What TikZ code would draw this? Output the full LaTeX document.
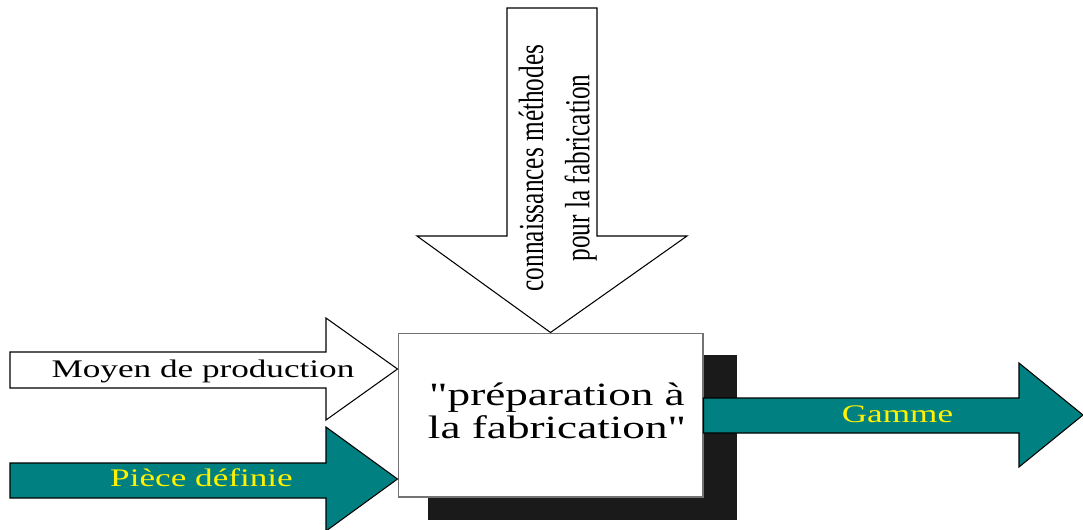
\documentclass[tikz,border=0pt]{standalone}
\usepackage{fontspec}
\setmainfont{Liberation Serif}[Ligatures=TeXOff]
\definecolor{petrol}{RGB}{0,128,128}
\definecolor{shadowgrey}{RGB}{26,26,26}
\newcommand{\widetext}[1]{\scalebox{1.39}[1]{#1}}
\newcommand{\talltext}[1]{\scalebox{1}[1.39]{#1}}
\tikzset{ %line width = 0.6pt,
  {flow arrow/.style} ={draw=black,line width=0.6pt,fill=white},
  {teal arrow/.style} ={flow arrow,fill=petrol},
  {drop shade/.style} ={fill=shadowgrey},
  {box/.style}={rectangle, draw=black!55, line width=0.6pt, fill=white,
                minimum width=6.1cm, minimum height=3.28cm, inner sep=0},
  {label text/.style} ={anchor=base,inner sep=0,
                font=\fontsize{14.4}{19}\selectfont},
  {yellow text/.style} ={label text,text=yellow},
 }

\begin{document}
\begin{tikzpicture}[x=0.02cm,y=-0.02cm]
\useasboundingbox (0,0) rectangle (1083,529);

% box and its shadow
\fill[drop shade] (428,355) rectangle (737,520);
\node[box] (prep) at (550.5,415) {};
\node[font=\fontsize{18.5}{18.8}\selectfont] (prepname) at (557,415)
    {\widetext{\begin{tabular}{@{}c@{}}"préparation à\\la fabrication"\end{tabular}}};

% output
\draw[teal arrow] (prep.east |- 0,398) -- (1019,398) -- (1019,363)
    -- (1083,415) -- (1019,467) -- (1019,433) -- (prep.east |- 0,433) -- cycle;

% inputs
\draw[flow arrow] (507,8) -- (597,8) -- (597,236) -- (687,236)
    -- (prep.north) -- (417,236) -- (507,236) -- cycle;
\draw[flow arrow] (10,352) -- (326,352) -- (326,318)
    -- (prep.west |- 0,369) -- (326,420) -- (326,388) -- (10,388) -- cycle;
\draw[teal arrow] (10,463) -- (326,463) -- (326,427)
    -- (prep.west |- 0,479) -- (326,531) -- (326,498) -- (10,498) -- cycle;

\node[label text] (moyen) at (203,377) {\widetext{Moyen de production}};
\node[yellow text] (piece) at (201.5,486) {\widetext{Pièce définie}};
\node[yellow text] (gamme) at (897.5,422) {\widetext{Gamme}};
\node[font=\fontsize{14.4}{19}\selectfont, rotate=90] (savoir) at (557,168)
    {\talltext{\begin{tabular}{@{}c@{}}connaissances méthodes\\pour la fabrication\end{tabular}}};
\end{tikzpicture}
\end{document}
